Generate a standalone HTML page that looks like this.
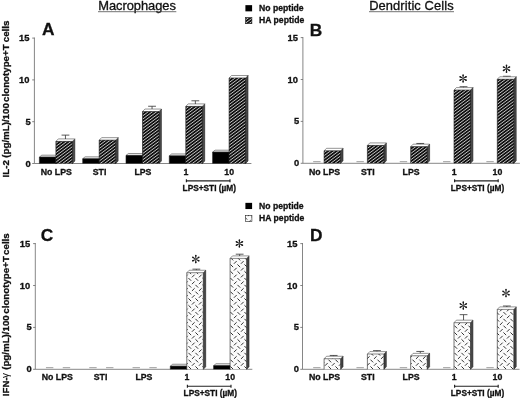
<!DOCTYPE html>
<html><head><meta charset="utf-8"><title>Figure</title>
<style>
html,body{margin:0;padding:0;background:#fff;}
body{width:520px;height:398px;overflow:hidden;font-family:"Liberation Sans",sans-serif;}
svg{display:block;will-change:transform;filter:grayscale(1) blur(0.3px);}
svg text{font-family:"Liberation Sans",sans-serif;fill:#111;}
svg text.b{font-weight:bold;stroke:#111;stroke-width:0.3px;}
svg text.r{font-weight:normal;stroke:#111;stroke-width:0.32px;}
svg text.g{font-weight:normal;}
</style></head><body>
<svg width="520" height="398" viewBox="0 0 520 398"><rect width="520" height="398" fill="#fff"/><text x="98.3" y="10.1" font-size="12.9" textLength="77.6" lengthAdjust="spacing" class="r">Macrophages</text><path d="M98 11.7 H176.3" stroke="#444" stroke-width="0.75"/><text x="369.2" y="10.1" font-size="12.9" textLength="84.4" lengthAdjust="spacing" class="r">Dendritic Cells</text><path d="M369 11.7 H454" stroke="#444" stroke-width="0.75"/><rect x="245.4" y="5.15" width="6.7" height="6.2" fill="#000"/><clipPath id="c1"><rect x="245.6" y="17.6" width="6.3" height="6.1"/></clipPath><rect x="245.6" y="17.6" width="6.3" height="6.1" fill="#101010"/><path d="M244.6 14.37 L252.9 8.15 M244.6 17.51 L252.9 11.28 M244.6 20.65 L252.9 14.42 M244.6 23.79 L252.9 17.56 M244.6 26.93 L252.9 20.7 M244.6 30.07 L252.9 23.84 " stroke="#c6c6c6" stroke-width="1.0" fill="none" clip-path="url(#c1)"/><rect x="245.6" y="17.6" width="6.3" height="6.1" fill="none" stroke="#222" stroke-width="0.6"/><text x="259.1" y="10.9" font-size="8.62" class="b">No peptide</text><text x="259.1" y="23.1" font-size="8.62" class="b">HA peptide</text><rect x="245.4" y="202.85" width="6.7" height="6.2" fill="#000"/><clipPath id="c2"><rect x="245.6" y="215.3" width="6.3" height="6.1"/></clipPath><rect x="245.6" y="215.3" width="6.3" height="6.1" fill="#fbfbfb"/><path d="M244.45 216.85 L247.15 219.55 M247.95 216.15 L250.65 213.45 M251.45 216.85 L254.15 219.55 M247.95 222.95 L250.65 220.25 " stroke="#333" stroke-width="1.0" fill="none" clip-path="url(#c2)"/><rect x="245.6" y="215.3" width="6.3" height="6.1" fill="none" stroke="#222" stroke-width="0.6"/><text x="259.1" y="208.6" font-size="8.62" class="b">No peptide</text><text x="259.1" y="220.8" font-size="8.62" class="b">HA peptide</text><path d="M34.4 37.5 V163.5 H251.4" stroke="#707070" stroke-width="0.85" fill="none"/><path d="M32.199999999999996 163.5 H34.4" stroke="#666" stroke-width="0.8"/><text x="30.8" y="166.5" font-size="9.4" text-anchor="end" class="b">0</text><path d="M32.199999999999996 121.7 H34.4" stroke="#666" stroke-width="0.8"/><text x="30.8" y="124.7" font-size="9.4" text-anchor="end" class="b">5</text><path d="M32.199999999999996 79.9 H34.4" stroke="#666" stroke-width="0.8"/><text x="29.4" y="82.9" font-size="9.4" text-anchor="end" class="b">10</text><path d="M32.199999999999996 38.1 H34.4" stroke="#666" stroke-width="0.8"/><text x="29.4" y="41.1" font-size="9.4" text-anchor="end" class="b">15</text><text x="42.05" y="35.1" font-size="17.3" class="b">A</text><polygon points="55.9,157.06 58.3,155.16 58.3,161.6 55.9,163.5" fill="#000" stroke="#1c1c1c" stroke-width="0.6"/><polygon points="39.4,157.06 41.8,155.16 58.3,155.16 55.9,157.06" fill="#ececec" stroke="#2a2a2a" stroke-width="0.5"/><clipPath id="c3"><rect x="39.4" y="157.06" width="16.5" height="6.44"/></clipPath><rect x="39.4" y="157.06" width="16.5" height="6.44" fill="#000"/><path d="M39.4 157.06 V163.5 M55.9 157.06 V163.5" fill="none" stroke="#1c1c1c" stroke-width="0.6"/><path d="M39.4 157.16 H55.9" fill="none" stroke="#1c1c1c" stroke-width="0.35"/><path d="M65.45 139.02 V135.12 M61.55 135.12 H69.35" stroke="#3c3c3c" stroke-width="0.85" fill="none"/><polygon points="72.4,141.42 74.8,138.92 74.8,161 72.4,163.5" fill="#4a4a4a" stroke="#1c1c1c" stroke-width="0.6"/><polygon points="55.9,141.42 58.3,138.92 74.8,138.92 72.4,141.42" fill="#ffffff" stroke="#2a2a2a" stroke-width="0.5"/><clipPath id="c4"><rect x="55.9" y="141.42" width="16.5" height="22.08"/></clipPath><rect x="55.9" y="141.42" width="16.5" height="22.08" fill="#101010"/><path d="M54.9 137.81 L73.4 123.93 M54.9 140.94 L73.4 127.07 M54.9 144.09 L73.4 130.21 M54.9 147.23 L73.4 133.35 M54.9 150.37 L73.4 136.49 M54.9 153.5 L73.4 139.63 M54.9 156.65 L73.4 142.77 M54.9 159.79 L73.4 145.91 M54.9 162.93 L73.4 149.05 M54.9 166.06 L73.4 152.19 M54.9 169.2 L73.4 155.33 M54.9 172.35 L73.4 158.47 M54.9 175.49 L73.4 161.61 M54.9 178.62 L73.4 164.75 " stroke="#c6c6c6" stroke-width="1.0" fill="none" clip-path="url(#c4)"/><path d="M55.9 141.42 V163.5 M72.4 141.42 V163.5" fill="none" stroke="#1c1c1c" stroke-width="0.6"/><path d="M55.9 141.52 H72.4" fill="none" stroke="#1c1c1c" stroke-width="0.35"/><text x="56.3" y="174.5" font-size="8.75" text-anchor="middle" class="b">No LPS</text><polygon points="99.2,158.72 101.6,156.82 101.6,161.6 99.2,163.5" fill="#000" stroke="#1c1c1c" stroke-width="0.6"/><polygon points="82.7,158.72 85.1,156.82 101.6,156.82 99.2,158.72" fill="#ececec" stroke="#2a2a2a" stroke-width="0.5"/><clipPath id="c5"><rect x="82.7" y="158.72" width="16.5" height="4.78"/></clipPath><rect x="82.7" y="158.72" width="16.5" height="4.78" fill="#000"/><path d="M82.7 158.72 V163.5 M99.2 158.72 V163.5" fill="none" stroke="#1c1c1c" stroke-width="0.6"/><path d="M82.7 158.82 H99.2" fill="none" stroke="#1c1c1c" stroke-width="0.35"/><polygon points="115.7,140.17 118.1,137.67 118.1,161 115.7,163.5" fill="#4a4a4a" stroke="#1c1c1c" stroke-width="0.6"/><polygon points="99.2,140.17 101.6,137.67 118.1,137.67 115.7,140.17" fill="#ffffff" stroke="#2a2a2a" stroke-width="0.5"/><clipPath id="c6"><rect x="99.2" y="140.17" width="16.5" height="23.33"/></clipPath><rect x="99.2" y="140.17" width="16.5" height="23.33" fill="#101010"/><path d="M98.2 136.73 L116.7 122.86 M98.2 139.87 L116.7 126 M98.2 143.01 L116.7 129.13 M98.2 146.15 L116.7 132.28 M98.2 149.29 L116.7 135.42 M98.2 152.43 L116.7 138.56 M98.2 155.57 L116.7 141.69 M98.2 158.71 L116.7 144.84 M98.2 161.85 L116.7 147.98 M98.2 164.99 L116.7 151.12 M98.2 168.13 L116.7 154.25 M98.2 171.27 L116.7 157.4 M98.2 174.41 L116.7 160.54 M98.2 177.55 L116.7 163.68 " stroke="#c6c6c6" stroke-width="1.0" fill="none" clip-path="url(#c6)"/><path d="M99.2 140.17 V163.5 M115.7 140.17 V163.5" fill="none" stroke="#1c1c1c" stroke-width="0.6"/><path d="M99.2 140.27 H115.7" fill="none" stroke="#1c1c1c" stroke-width="0.35"/><text x="99.6" y="174.5" font-size="8.75" text-anchor="middle" class="b">STI</text><polygon points="142.5,155.4 144.9,153.5 144.9,161.6 142.5,163.5" fill="#000" stroke="#1c1c1c" stroke-width="0.6"/><polygon points="126,155.4 128.4,153.5 144.9,153.5 142.5,155.4" fill="#ececec" stroke="#2a2a2a" stroke-width="0.5"/><clipPath id="c7"><rect x="126" y="155.4" width="16.5" height="8.1"/></clipPath><rect x="126" y="155.4" width="16.5" height="8.1" fill="#000"/><path d="M126 155.4 V163.5 M142.5 155.4 V163.5" fill="none" stroke="#1c1c1c" stroke-width="0.6"/><path d="M126 155.5 H142.5" fill="none" stroke="#1c1c1c" stroke-width="0.35"/><path d="M152.05 109.15 V106.25 M148.15 106.25 H155.95" stroke="#3c3c3c" stroke-width="0.85" fill="none"/><polygon points="159,111.55 161.4,109.05 161.4,161 159,163.5" fill="#4a4a4a" stroke="#1c1c1c" stroke-width="0.6"/><polygon points="142.5,111.55 144.9,109.05 161.4,109.05 159,111.55" fill="#ffffff" stroke="#2a2a2a" stroke-width="0.5"/><clipPath id="c8"><rect x="142.5" y="111.55" width="16.5" height="51.95"/></clipPath><rect x="142.5" y="111.55" width="16.5" height="51.95" fill="#101010"/><path d="M141.5 107.4 L160 93.52 M141.5 110.53 L160 96.66 M141.5 113.68 L160 99.8 M141.5 116.81 L160 102.94 M141.5 119.96 L160 106.08 M141.5 123.09 L160 109.22 M141.5 126.24 L160 112.36 M141.5 129.38 L160 115.5 M141.5 132.52 L160 118.64 M141.5 135.66 L160 121.78 M141.5 138.8 L160 124.92 M141.5 141.94 L160 128.06 M141.5 145.08 L160 131.2 M141.5 148.22 L160 134.34 M141.5 151.36 L160 137.48 M141.5 154.5 L160 140.62 M141.5 157.63 L160 143.76 M141.5 160.78 L160 146.9 M141.5 163.92 L160 150.04 M141.5 167.06 L160 153.18 M141.5 170.19 L160 156.32 M141.5 173.34 L160 159.46 M141.5 176.48 L160 162.6 M141.5 179.62 L160 165.74 " stroke="#c6c6c6" stroke-width="1.0" fill="none" clip-path="url(#c8)"/><path d="M142.5 111.55 V163.5 M159 111.55 V163.5" fill="none" stroke="#1c1c1c" stroke-width="0.6"/><path d="M142.5 111.65 H159" fill="none" stroke="#1c1c1c" stroke-width="0.35"/><text x="142.9" y="174.5" font-size="8.75" text-anchor="middle" class="b">LPS</text><polygon points="185.8,155.81 188.2,153.91 188.2,161.6 185.8,163.5" fill="#000" stroke="#1c1c1c" stroke-width="0.6"/><polygon points="169.3,155.81 171.7,153.91 188.2,153.91 185.8,155.81" fill="#ececec" stroke="#2a2a2a" stroke-width="0.5"/><clipPath id="c9"><rect x="169.3" y="155.81" width="16.5" height="7.69"/></clipPath><rect x="169.3" y="155.81" width="16.5" height="7.69" fill="#000"/><path d="M169.3 155.81 V163.5 M185.8 155.81 V163.5" fill="none" stroke="#1c1c1c" stroke-width="0.6"/><path d="M169.3 155.91 H185.8" fill="none" stroke="#1c1c1c" stroke-width="0.35"/><path d="M195.35 103.99 V100.79 M191.45 100.79 H199.25" stroke="#3c3c3c" stroke-width="0.85" fill="none"/><polygon points="202.3,106.39 204.7,103.89 204.7,161 202.3,163.5" fill="#4a4a4a" stroke="#1c1c1c" stroke-width="0.6"/><polygon points="185.8,106.39 188.2,103.89 204.7,103.89 202.3,106.39" fill="#ffffff" stroke="#2a2a2a" stroke-width="0.5"/><clipPath id="c10"><rect x="185.8" y="106.39" width="16.5" height="57.11"/></clipPath><rect x="185.8" y="106.39" width="16.5" height="57.11" fill="#101010"/><path d="M184.8 103.18 L203.3 89.31 M184.8 106.32 L203.3 92.45 M184.8 109.46 L203.3 95.59 M184.8 112.6 L203.3 98.73 M184.8 115.74 L203.3 101.87 M184.8 118.88 L203.3 105.01 M184.8 122.02 L203.3 108.15 M184.8 125.16 L203.3 111.28 M184.8 128.3 L203.3 114.43 M184.8 131.44 L203.3 117.57 M184.8 134.58 L203.3 120.71 M184.8 137.72 L203.3 123.84 M184.8 140.86 L203.3 126.99 M184.8 144 L203.3 130.13 M184.8 147.14 L203.3 133.27 M184.8 150.28 L203.3 136.41 M184.8 153.42 L203.3 139.55 M184.8 156.56 L203.3 142.69 M184.8 159.7 L203.3 145.83 M184.8 162.84 L203.3 148.97 M184.8 165.98 L203.3 152.1 M184.8 169.12 L203.3 155.25 M184.8 172.26 L203.3 158.39 M184.8 175.4 L203.3 161.53 M184.8 178.54 L203.3 164.66 " stroke="#c6c6c6" stroke-width="1.0" fill="none" clip-path="url(#c10)"/><path d="M185.8 106.39 V163.5 M202.3 106.39 V163.5" fill="none" stroke="#1c1c1c" stroke-width="0.6"/><path d="M185.8 106.49 H202.3" fill="none" stroke="#1c1c1c" stroke-width="0.35"/><text x="185.9" y="174.5" font-size="8.75" text-anchor="middle" class="b">1</text><polygon points="229.1,152.07 231.5,150.17 231.5,161.6 229.1,163.5" fill="#000" stroke="#1c1c1c" stroke-width="0.6"/><polygon points="212.6,152.07 215,150.17 231.5,150.17 229.1,152.07" fill="#ececec" stroke="#2a2a2a" stroke-width="0.5"/><clipPath id="c11"><rect x="212.6" y="152.07" width="16.5" height="11.43"/></clipPath><rect x="212.6" y="152.07" width="16.5" height="11.43" fill="#000"/><path d="M212.6 152.07 V163.5 M229.1 152.07 V163.5" fill="none" stroke="#1c1c1c" stroke-width="0.6"/><path d="M212.6 152.17 H229.1" fill="none" stroke="#1c1c1c" stroke-width="0.35"/><polygon points="245.6,78.02 248,75.52 248,161 245.6,163.5" fill="#4a4a4a" stroke="#1c1c1c" stroke-width="0.6"/><polygon points="229.1,78.02 231.5,75.52 248,75.52 245.6,78.02" fill="#ffffff" stroke="#2a2a2a" stroke-width="0.5"/><clipPath id="c12"><rect x="229.1" y="78.02" width="16.5" height="85.48"/></clipPath><rect x="229.1" y="78.02" width="16.5" height="85.48" fill="#101010"/><path d="M228.1 73.85 L246.6 59.97 M228.1 76.99 L246.6 63.11 M228.1 80.13 L246.6 66.25 M228.1 83.27 L246.6 69.39 M228.1 86.41 L246.6 72.53 M228.1 89.55 L246.6 75.67 M228.1 92.69 L246.6 78.81 M228.1 95.83 L246.6 81.95 M228.1 98.97 L246.6 85.09 M228.1 102.11 L246.6 88.23 M228.1 105.25 L246.6 91.37 M228.1 108.39 L246.6 94.51 M228.1 111.53 L246.6 97.65 M228.1 114.67 L246.6 100.79 M228.1 117.81 L246.6 103.93 M228.1 120.95 L246.6 107.07 M228.1 124.09 L246.6 110.21 M228.1 127.23 L246.6 113.35 M228.1 130.37 L246.6 116.49 M228.1 133.5 L246.6 119.63 M228.1 136.65 L246.6 122.77 M228.1 139.79 L246.6 125.91 M228.1 142.93 L246.6 129.05 M228.1 146.06 L246.6 132.19 M228.1 149.21 L246.6 135.33 M228.1 152.35 L246.6 138.47 M228.1 155.49 L246.6 141.61 M228.1 158.62 L246.6 144.75 M228.1 161.77 L246.6 147.89 M228.1 164.91 L246.6 151.03 M228.1 168.05 L246.6 154.17 M228.1 171.19 L246.6 157.31 M228.1 174.33 L246.6 160.45 M228.1 177.47 L246.6 163.59 " stroke="#c6c6c6" stroke-width="1.0" fill="none" clip-path="url(#c12)"/><path d="M229.1 78.02 V163.5 M245.6 78.02 V163.5" fill="none" stroke="#1c1c1c" stroke-width="0.6"/><path d="M229.1 78.12 H245.6" fill="none" stroke="#1c1c1c" stroke-width="0.35"/><text x="229.2" y="174.5" font-size="8.75" text-anchor="middle" class="b">10</text><path d="M186.4 180.8 H230 M186.4 179.3 V182.3 M230 179.3 V182.3" stroke="#222" stroke-width="1.15"/><text x="209.3" y="190.8" font-size="8.3" text-anchor="middle" class="b">LPS+STI (µM)</text><text transform="translate(8.55,177.48) rotate(-90)" font-size="9.72" class="b">IL-2</text><text transform="translate(8.55,157.7) rotate(-90)" font-size="9.72" class="b">(pg/mL)/100</text><text transform="translate(8.55,101.89) rotate(-90)" font-size="9.72" class="b">clonotype+T</text><text transform="translate(8.55,42.19) rotate(-90)" font-size="9.72" class="b">cells</text><path d="M302.9 37 V163.3 H519.9" stroke="#707070" stroke-width="0.85" fill="none"/><path d="M300.7 163.3 H302.9" stroke="#666" stroke-width="0.8"/><text x="299.3" y="166.3" font-size="9.4" text-anchor="end" class="b">0</text><path d="M300.7 121.4 H302.9" stroke="#666" stroke-width="0.8"/><text x="299.3" y="124.4" font-size="9.4" text-anchor="end" class="b">5</text><path d="M300.7 79.5 H302.9" stroke="#666" stroke-width="0.8"/><text x="297.9" y="82.5" font-size="9.4" text-anchor="end" class="b">10</text><path d="M300.7 37.6 H302.9" stroke="#666" stroke-width="0.8"/><text x="297.9" y="40.6" font-size="9.4" text-anchor="end" class="b">15</text><text x="309.85" y="35.6" font-size="17.3" class="b">B</text><rect x="313.15" y="161.1" width="7.4" height="1.1" fill="#a6a6a6"/><polygon points="340.6,150.82 343,148.32 343,160.8 340.6,163.3" fill="#4a4a4a" stroke="#1c1c1c" stroke-width="0.6"/><polygon points="324.1,150.82 326.5,148.32 343,148.32 340.6,150.82" fill="#ffffff" stroke="#2a2a2a" stroke-width="0.5"/><clipPath id="c13"><rect x="324.1" y="150.82" width="16.5" height="12.48"/></clipPath><rect x="324.1" y="150.82" width="16.5" height="12.48" fill="#101010"/><path d="M323.1 147.04 L341.6 133.16 M323.1 150.18 L341.6 136.3 M323.1 153.32 L341.6 139.44 M323.1 156.46 L341.6 142.58 M323.1 159.6 L341.6 145.72 M323.1 162.74 L341.6 148.86 M323.1 165.88 L341.6 152 M323.1 169.02 L341.6 155.14 M323.1 172.16 L341.6 158.28 M323.1 175.3 L341.6 161.42 M323.1 178.44 L341.6 164.56 " stroke="#c6c6c6" stroke-width="1.0" fill="none" clip-path="url(#c13)"/><path d="M324.1 150.82 V163.3 M340.6 150.82 V163.3" fill="none" stroke="#1c1c1c" stroke-width="0.6"/><path d="M324.1 150.92 H340.6" fill="none" stroke="#1c1c1c" stroke-width="0.35"/><text x="324.5" y="174.5" font-size="8.75" text-anchor="middle" class="b">No LPS</text><rect x="356.45" y="161.1" width="7.4" height="1.1" fill="#a6a6a6"/><polygon points="383.9,145.41 386.3,142.91 386.3,160.8 383.9,163.3" fill="#4a4a4a" stroke="#1c1c1c" stroke-width="0.6"/><polygon points="367.4,145.41 369.8,142.91 386.3,142.91 383.9,145.41" fill="#ffffff" stroke="#2a2a2a" stroke-width="0.5"/><clipPath id="c14"><rect x="367.4" y="145.41" width="16.5" height="17.89"/></clipPath><rect x="367.4" y="145.41" width="16.5" height="17.89" fill="#101010"/><path d="M366.4 142.82 L384.9 128.95 M366.4 145.96 L384.9 132.09 M366.4 149.1 L384.9 135.23 M366.4 152.24 L384.9 138.37 M366.4 155.38 L384.9 141.51 M366.4 158.52 L384.9 144.65 M366.4 161.66 L384.9 147.79 M366.4 164.8 L384.9 150.93 M366.4 167.94 L384.9 154.07 M366.4 171.08 L384.9 157.21 M366.4 174.22 L384.9 160.35 M366.4 177.36 L384.9 163.49 " stroke="#c6c6c6" stroke-width="1.0" fill="none" clip-path="url(#c14)"/><path d="M367.4 145.41 V163.3 M383.9 145.41 V163.3" fill="none" stroke="#1c1c1c" stroke-width="0.6"/><path d="M367.4 145.51 H383.9" fill="none" stroke="#1c1c1c" stroke-width="0.35"/><text x="367.8" y="174.5" font-size="8.75" text-anchor="middle" class="b">STI</text><rect x="399.75" y="161.1" width="7.4" height="1.1" fill="#a6a6a6"/><path d="M420.25 144.26 V143.46 M416.35 143.46 H424.15" stroke="#3c3c3c" stroke-width="0.85" fill="none"/><polygon points="427.2,146.66 429.6,144.16 429.6,160.8 427.2,163.3" fill="#4a4a4a" stroke="#1c1c1c" stroke-width="0.6"/><polygon points="410.7,146.66 413.1,144.16 429.6,144.16 427.2,146.66" fill="#ffffff" stroke="#2a2a2a" stroke-width="0.5"/><clipPath id="c15"><rect x="410.7" y="146.66" width="16.5" height="16.64"/></clipPath><rect x="410.7" y="146.66" width="16.5" height="16.64" fill="#101010"/><path d="M409.7 141.75 L428.2 127.87 M409.7 144.89 L428.2 131.01 M409.7 148.03 L428.2 134.15 M409.7 151.17 L428.2 137.29 M409.7 154.31 L428.2 140.43 M409.7 157.45 L428.2 143.57 M409.7 160.59 L428.2 146.71 M409.7 163.73 L428.2 149.85 M409.7 166.87 L428.2 152.99 M409.7 170.01 L428.2 156.13 M409.7 173.15 L428.2 159.27 M409.7 176.29 L428.2 162.41 M409.7 179.43 L428.2 165.55 " stroke="#c6c6c6" stroke-width="1.0" fill="none" clip-path="url(#c15)"/><path d="M410.7 146.66 V163.3 M427.2 146.66 V163.3" fill="none" stroke="#1c1c1c" stroke-width="0.6"/><path d="M410.7 146.76 H427.2" fill="none" stroke="#1c1c1c" stroke-width="0.35"/><text x="411.1" y="174.5" font-size="8.75" text-anchor="middle" class="b">LPS</text><rect x="443.05" y="161.1" width="7.4" height="1.1" fill="#a6a6a6"/><path d="M463.55 87.68 V86.68 M459.65 86.68 H467.45" stroke="#3c3c3c" stroke-width="0.85" fill="none"/><polygon points="470.5,90.08 472.9,87.58 472.9,160.8 470.5,163.3" fill="#4a4a4a" stroke="#1c1c1c" stroke-width="0.6"/><polygon points="454,90.08 456.4,87.58 472.9,87.58 470.5,90.08" fill="#ffffff" stroke="#2a2a2a" stroke-width="0.5"/><clipPath id="c16"><rect x="454" y="90.08" width="16.5" height="73.22"/></clipPath><rect x="454" y="90.08" width="16.5" height="73.22" fill="#101010"/><path d="M453 87.29 L471.5 73.42 M453 90.43 L471.5 76.56 M453 93.57 L471.5 79.7 M453 96.71 L471.5 82.84 M453 99.85 L471.5 85.98 M453 102.99 L471.5 89.12 M453 106.13 L471.5 92.26 M453 109.27 L471.5 95.4 M453 112.41 L471.5 98.54 M453 115.55 L471.5 101.68 M453 118.69 L471.5 104.82 M453 121.83 L471.5 107.96 M453 124.97 L471.5 111.1 M453 128.11 L471.5 114.24 M453 131.25 L471.5 117.38 M453 134.39 L471.5 120.52 M453 137.53 L471.5 123.66 M453 140.67 L471.5 126.8 M453 143.81 L471.5 129.94 M453 146.95 L471.5 133.08 M453 150.09 L471.5 136.22 M453 153.23 L471.5 139.36 M453 156.37 L471.5 142.5 M453 159.51 L471.5 145.64 M453 162.65 L471.5 148.78 M453 165.79 L471.5 151.92 M453 168.93 L471.5 155.06 M453 172.07 L471.5 158.2 M453 175.21 L471.5 161.34 M453 178.35 L471.5 164.48 " stroke="#c6c6c6" stroke-width="1.0" fill="none" clip-path="url(#c16)"/><path d="M454 90.08 V163.3 M470.5 90.08 V163.3" fill="none" stroke="#1c1c1c" stroke-width="0.6"/><path d="M454 90.18 H470.5" fill="none" stroke="#1c1c1c" stroke-width="0.35"/><text x="454.1" y="174.5" font-size="8.75" text-anchor="middle" class="b">1</text><rect x="486.35" y="161.1" width="7.4" height="1.1" fill="#a6a6a6"/><path d="M506.85 76.87 V76.27 M502.95 76.27 H510.75" stroke="#3c3c3c" stroke-width="0.85" fill="none"/><polygon points="513.8,79.27 516.2,76.77 516.2,160.8 513.8,163.3" fill="#4a4a4a" stroke="#1c1c1c" stroke-width="0.6"/><polygon points="497.3,79.27 499.7,76.77 516.2,76.77 513.8,79.27" fill="#ffffff" stroke="#2a2a2a" stroke-width="0.5"/><clipPath id="c17"><rect x="497.3" y="79.27" width="16.5" height="84.03"/></clipPath><rect x="497.3" y="79.27" width="16.5" height="84.03" fill="#101010"/><path d="M496.3 76.8 L514.8 62.92 M496.3 79.94 L514.8 66.06 M496.3 83.08 L514.8 69.2 M496.3 86.22 L514.8 72.34 M496.3 89.36 L514.8 75.48 M496.3 92.5 L514.8 78.62 M496.3 95.64 L514.8 81.76 M496.3 98.78 L514.8 84.9 M496.3 101.92 L514.8 88.04 M496.3 105.06 L514.8 91.18 M496.3 108.2 L514.8 94.32 M496.3 111.34 L514.8 97.46 M496.3 114.48 L514.8 100.6 M496.3 117.62 L514.8 103.74 M496.3 120.76 L514.8 106.88 M496.3 123.9 L514.8 110.02 M496.3 127.04 L514.8 113.16 M496.3 130.18 L514.8 116.3 M496.3 133.32 L514.8 119.44 M496.3 136.46 L514.8 122.58 M496.3 139.6 L514.8 125.72 M496.3 142.74 L514.8 128.86 M496.3 145.88 L514.8 132 M496.3 149.02 L514.8 135.14 M496.3 152.16 L514.8 138.28 M496.3 155.3 L514.8 141.42 M496.3 158.44 L514.8 144.56 M496.3 161.58 L514.8 147.7 M496.3 164.72 L514.8 150.84 M496.3 167.86 L514.8 153.98 M496.3 171 L514.8 157.12 M496.3 174.14 L514.8 160.26 M496.3 177.28 L514.8 163.4 " stroke="#c6c6c6" stroke-width="1.0" fill="none" clip-path="url(#c17)"/><path d="M497.3 79.27 V163.3 M513.8 79.27 V163.3" fill="none" stroke="#1c1c1c" stroke-width="0.6"/><path d="M497.3 79.37 H513.8" fill="none" stroke="#1c1c1c" stroke-width="0.35"/><text x="497.4" y="174.5" font-size="8.75" text-anchor="middle" class="b">10</text><path d="M454.6 180.8 H498.2 M454.6 179.3 V182.3 M498.2 179.3 V182.3" stroke="#222" stroke-width="1.15"/><text x="477.5" y="190.8" font-size="8.3" text-anchor="middle" class="b">LPS+STI (µM)</text><g fill="#151515"><polygon points="462.84,78.2 462.32,74.98 463.88,74.98 463.36,78.2"/><circle cx="463.1" cy="74.98" r="0.78"/><polygon points="463.23,78.12 465.76,76.06 466.54,77.42 463.49,78.58"/><circle cx="466.15" cy="76.74" r="0.78"/><polygon points="462.71,78.58 459.66,77.42 460.44,76.06 462.97,78.12"/><circle cx="460.05" cy="76.74" r="0.78"/><polygon points="463.36,78.8 463.88,82.02 462.32,82.02 462.84,78.8"/><circle cx="463.1" cy="82.02" r="0.78"/><polygon points="462.97,78.88 460.44,80.94 459.66,79.58 462.71,78.42"/><circle cx="460.05" cy="80.26" r="0.78"/><polygon points="463.49,78.42 466.54,79.58 465.76,80.94 463.23,78.88"/><circle cx="466.15" cy="80.26" r="0.78"/><circle cx="463.1" cy="78.5" r="0.45"/></g><g fill="#151515"><polygon points="506.24,68.4 505.72,65.18 507.28,65.18 506.76,68.4"/><circle cx="506.5" cy="65.18" r="0.78"/><polygon points="506.63,68.32 509.16,66.26 509.94,67.62 506.89,68.78"/><circle cx="509.55" cy="66.94" r="0.78"/><polygon points="506.11,68.78 503.06,67.62 503.84,66.26 506.37,68.32"/><circle cx="503.45" cy="66.94" r="0.78"/><polygon points="506.76,69 507.28,72.22 505.72,72.22 506.24,69"/><circle cx="506.5" cy="72.22" r="0.78"/><polygon points="506.37,69.08 503.84,71.14 503.06,69.78 506.11,68.62"/><circle cx="503.45" cy="70.46" r="0.78"/><polygon points="506.89,68.62 509.94,69.78 509.16,71.14 506.63,69.08"/><circle cx="509.55" cy="70.46" r="0.78"/><circle cx="506.5" cy="68.7" r="0.45"/></g><path d="M35.3 243 V369.3 H252.3" stroke="#707070" stroke-width="0.85" fill="none"/><path d="M33.099999999999994 369.3 H35.3" stroke="#666" stroke-width="0.8"/><text x="31.7" y="372.3" font-size="9.4" text-anchor="end" class="b">0</text><path d="M33.099999999999994 327.4 H35.3" stroke="#666" stroke-width="0.8"/><text x="31.7" y="330.4" font-size="9.4" text-anchor="end" class="b">5</text><path d="M33.099999999999994 285.5 H35.3" stroke="#666" stroke-width="0.8"/><text x="30.3" y="288.5" font-size="9.4" text-anchor="end" class="b">10</text><path d="M33.099999999999994 243.6 H35.3" stroke="#666" stroke-width="0.8"/><text x="30.3" y="246.6" font-size="9.4" text-anchor="end" class="b">15</text><text x="40.65" y="241.1" font-size="17.3" class="b">C</text><rect x="45.95" y="367.1" width="7.4" height="1.1" fill="#a6a6a6"/><rect x="62.75" y="367.1" width="7.4" height="1.1" fill="#a6a6a6"/><text x="57.3" y="379.9" font-size="8.75" text-anchor="middle" class="b">No LPS</text><rect x="89.25" y="367.1" width="7.4" height="1.1" fill="#a6a6a6"/><rect x="106.05" y="367.1" width="7.4" height="1.1" fill="#a6a6a6"/><text x="100.6" y="379.9" font-size="8.75" text-anchor="middle" class="b">STI</text><rect x="132.55" y="367.1" width="7.4" height="1.1" fill="#a6a6a6"/><rect x="149.35" y="367.1" width="7.4" height="1.1" fill="#a6a6a6"/><text x="143.9" y="379.9" font-size="8.75" text-anchor="middle" class="b">LPS</text><polygon points="186.8,366.13 189.2,364.23 189.2,367.4 186.8,369.3" fill="#000" stroke="#1c1c1c" stroke-width="0.6"/><polygon points="170.3,366.13 172.7,364.23 189.2,364.23 186.8,366.13" fill="#ececec" stroke="#2a2a2a" stroke-width="0.5"/><clipPath id="c18"><rect x="170.3" y="366.13" width="16.5" height="3.17"/></clipPath><rect x="170.3" y="366.13" width="16.5" height="3.17" fill="#000"/><path d="M170.3 366.13 V369.3 M186.8 366.13 V369.3" fill="none" stroke="#1c1c1c" stroke-width="0.6"/><path d="M170.3 366.23 H186.8" fill="none" stroke="#1c1c1c" stroke-width="0.35"/><path d="M196.35 270.35 V269.15 M192.45 269.15 H200.25" stroke="#3c3c3c" stroke-width="0.85" fill="none"/><polygon points="203.3,272.75 205.7,270.25 205.7,366.8 203.3,369.3" fill="#474747" stroke="#1c1c1c" stroke-width="0.6"/><polygon points="186.8,272.75 189.2,270.25 205.7,270.25 203.3,272.75" fill="#ffffff" stroke="#2a2a2a" stroke-width="0.5"/><clipPath id="c19"><rect x="186.8" y="272.75" width="16.5" height="96.55"/></clipPath><rect x="186.8" y="272.75" width="16.5" height="96.55" fill="#fbfbfb"/><path d="M188.45 271.25 L191.15 273.95 M195.45 271.25 L198.15 273.95 M202.45 271.25 L205.15 273.95 M184.95 277.35 L187.65 274.65 M188.45 278.05 L191.15 280.75 M191.95 277.35 L194.65 274.65 M195.45 278.05 L198.15 280.75 M198.95 277.35 L201.65 274.65 M202.45 278.05 L205.15 280.75 M184.95 284.15 L187.65 281.45 M188.45 284.85 L191.15 287.55 M191.95 284.15 L194.65 281.45 M195.45 284.85 L198.15 287.55 M198.95 284.15 L201.65 281.45 M202.45 284.85 L205.15 287.55 M184.95 290.95 L187.65 288.25 M188.45 291.65 L191.15 294.35 M191.95 290.95 L194.65 288.25 M195.45 291.65 L198.15 294.35 M198.95 290.95 L201.65 288.25 M202.45 291.65 L205.15 294.35 M184.95 297.75 L187.65 295.05 M188.45 298.45 L191.15 301.15 M191.95 297.75 L194.65 295.05 M195.45 298.45 L198.15 301.15 M198.95 297.75 L201.65 295.05 M202.45 298.45 L205.15 301.15 M184.95 304.55 L187.65 301.85 M188.45 305.25 L191.15 307.95 M191.95 304.55 L194.65 301.85 M195.45 305.25 L198.15 307.95 M198.95 304.55 L201.65 301.85 M202.45 305.25 L205.15 307.95 M184.95 311.35 L187.65 308.65 M188.45 312.05 L191.15 314.75 M191.95 311.35 L194.65 308.65 M195.45 312.05 L198.15 314.75 M198.95 311.35 L201.65 308.65 M202.45 312.05 L205.15 314.75 M184.95 318.15 L187.65 315.45 M188.45 318.85 L191.15 321.55 M191.95 318.15 L194.65 315.45 M195.45 318.85 L198.15 321.55 M198.95 318.15 L201.65 315.45 M202.45 318.85 L205.15 321.55 M184.95 324.95 L187.65 322.25 M188.45 325.65 L191.15 328.35 M191.95 324.95 L194.65 322.25 M195.45 325.65 L198.15 328.35 M198.95 324.95 L201.65 322.25 M202.45 325.65 L205.15 328.35 M184.95 331.75 L187.65 329.05 M188.45 332.45 L191.15 335.15 M191.95 331.75 L194.65 329.05 M195.45 332.45 L198.15 335.15 M198.95 331.75 L201.65 329.05 M202.45 332.45 L205.15 335.15 M184.95 338.55 L187.65 335.85 M188.45 339.25 L191.15 341.95 M191.95 338.55 L194.65 335.85 M195.45 339.25 L198.15 341.95 M198.95 338.55 L201.65 335.85 M202.45 339.25 L205.15 341.95 M184.95 345.35 L187.65 342.65 M188.45 346.05 L191.15 348.75 M191.95 345.35 L194.65 342.65 M195.45 346.05 L198.15 348.75 M198.95 345.35 L201.65 342.65 M202.45 346.05 L205.15 348.75 M184.95 352.15 L187.65 349.45 M188.45 352.85 L191.15 355.55 M191.95 352.15 L194.65 349.45 M195.45 352.85 L198.15 355.55 M198.95 352.15 L201.65 349.45 M202.45 352.85 L205.15 355.55 M184.95 358.95 L187.65 356.25 M188.45 359.65 L191.15 362.35 M191.95 358.95 L194.65 356.25 M195.45 359.65 L198.15 362.35 M198.95 358.95 L201.65 356.25 M202.45 359.65 L205.15 362.35 M184.95 365.75 L187.65 363.05 M188.45 366.45 L191.15 369.15 M191.95 365.75 L194.65 363.05 M195.45 366.45 L198.15 369.15 M198.95 365.75 L201.65 363.05 M202.45 366.45 L205.15 369.15 M184.95 372.55 L187.65 369.85 M191.95 372.55 L194.65 369.85 M198.95 372.55 L201.65 369.85 " stroke="#333" stroke-width="1.0" fill="none" clip-path="url(#c19)"/><path d="M186.8 272.75 V369.3 M203.3 272.75 V369.3" fill="none" stroke="#1c1c1c" stroke-width="0.6"/><path d="M186.8 272.85 H203.3" fill="none" stroke="#1c1c1c" stroke-width="0.35"/><text x="186.9" y="379.9" font-size="8.75" text-anchor="middle" class="b">1</text><polygon points="230.1,365.63 232.5,363.73 232.5,367.4 230.1,369.3" fill="#000" stroke="#1c1c1c" stroke-width="0.6"/><polygon points="213.6,365.63 216,363.73 232.5,363.73 230.1,365.63" fill="#ececec" stroke="#2a2a2a" stroke-width="0.5"/><clipPath id="c20"><rect x="213.6" y="365.63" width="16.5" height="3.67"/></clipPath><rect x="213.6" y="365.63" width="16.5" height="3.67" fill="#000"/><path d="M213.6 365.63 V369.3 M230.1 365.63 V369.3" fill="none" stroke="#1c1c1c" stroke-width="0.6"/><path d="M213.6 365.73 H230.1" fill="none" stroke="#1c1c1c" stroke-width="0.35"/><path d="M239.65 256 V254.2 M235.75 254.2 H243.55" stroke="#3c3c3c" stroke-width="0.85" fill="none"/><polygon points="246.6,258.4 249,255.9 249,366.8 246.6,369.3" fill="#474747" stroke="#1c1c1c" stroke-width="0.6"/><polygon points="230.1,258.4 232.5,255.9 249,255.9 246.6,258.4" fill="#ffffff" stroke="#2a2a2a" stroke-width="0.5"/><clipPath id="c21"><rect x="230.1" y="258.4" width="16.5" height="110.9"/></clipPath><rect x="230.1" y="258.4" width="16.5" height="110.9" fill="#fbfbfb"/><path d="M230.45 257.65 L233.15 260.35 M237.45 257.65 L240.15 260.35 M244.45 257.65 L247.15 260.35 M226.95 263.75 L229.65 261.05 M230.45 264.45 L233.15 267.15 M233.95 263.75 L236.65 261.05 M237.45 264.45 L240.15 267.15 M240.95 263.75 L243.65 261.05 M244.45 264.45 L247.15 267.15 M226.95 270.55 L229.65 267.85 M230.45 271.25 L233.15 273.95 M233.95 270.55 L236.65 267.85 M237.45 271.25 L240.15 273.95 M240.95 270.55 L243.65 267.85 M244.45 271.25 L247.15 273.95 M226.95 277.35 L229.65 274.65 M230.45 278.05 L233.15 280.75 M233.95 277.35 L236.65 274.65 M237.45 278.05 L240.15 280.75 M240.95 277.35 L243.65 274.65 M244.45 278.05 L247.15 280.75 M226.95 284.15 L229.65 281.45 M230.45 284.85 L233.15 287.55 M233.95 284.15 L236.65 281.45 M237.45 284.85 L240.15 287.55 M240.95 284.15 L243.65 281.45 M244.45 284.85 L247.15 287.55 M226.95 290.95 L229.65 288.25 M230.45 291.65 L233.15 294.35 M233.95 290.95 L236.65 288.25 M237.45 291.65 L240.15 294.35 M240.95 290.95 L243.65 288.25 M244.45 291.65 L247.15 294.35 M226.95 297.75 L229.65 295.05 M230.45 298.45 L233.15 301.15 M233.95 297.75 L236.65 295.05 M237.45 298.45 L240.15 301.15 M240.95 297.75 L243.65 295.05 M244.45 298.45 L247.15 301.15 M226.95 304.55 L229.65 301.85 M230.45 305.25 L233.15 307.95 M233.95 304.55 L236.65 301.85 M237.45 305.25 L240.15 307.95 M240.95 304.55 L243.65 301.85 M244.45 305.25 L247.15 307.95 M226.95 311.35 L229.65 308.65 M230.45 312.05 L233.15 314.75 M233.95 311.35 L236.65 308.65 M237.45 312.05 L240.15 314.75 M240.95 311.35 L243.65 308.65 M244.45 312.05 L247.15 314.75 M226.95 318.15 L229.65 315.45 M230.45 318.85 L233.15 321.55 M233.95 318.15 L236.65 315.45 M237.45 318.85 L240.15 321.55 M240.95 318.15 L243.65 315.45 M244.45 318.85 L247.15 321.55 M226.95 324.95 L229.65 322.25 M230.45 325.65 L233.15 328.35 M233.95 324.95 L236.65 322.25 M237.45 325.65 L240.15 328.35 M240.95 324.95 L243.65 322.25 M244.45 325.65 L247.15 328.35 M226.95 331.75 L229.65 329.05 M230.45 332.45 L233.15 335.15 M233.95 331.75 L236.65 329.05 M237.45 332.45 L240.15 335.15 M240.95 331.75 L243.65 329.05 M244.45 332.45 L247.15 335.15 M226.95 338.55 L229.65 335.85 M230.45 339.25 L233.15 341.95 M233.95 338.55 L236.65 335.85 M237.45 339.25 L240.15 341.95 M240.95 338.55 L243.65 335.85 M244.45 339.25 L247.15 341.95 M226.95 345.35 L229.65 342.65 M230.45 346.05 L233.15 348.75 M233.95 345.35 L236.65 342.65 M237.45 346.05 L240.15 348.75 M240.95 345.35 L243.65 342.65 M244.45 346.05 L247.15 348.75 M226.95 352.15 L229.65 349.45 M230.45 352.85 L233.15 355.55 M233.95 352.15 L236.65 349.45 M237.45 352.85 L240.15 355.55 M240.95 352.15 L243.65 349.45 M244.45 352.85 L247.15 355.55 M226.95 358.95 L229.65 356.25 M230.45 359.65 L233.15 362.35 M233.95 358.95 L236.65 356.25 M237.45 359.65 L240.15 362.35 M240.95 358.95 L243.65 356.25 M244.45 359.65 L247.15 362.35 M226.95 365.75 L229.65 363.05 M230.45 366.45 L233.15 369.15 M233.95 365.75 L236.65 363.05 M237.45 366.45 L240.15 369.15 M240.95 365.75 L243.65 363.05 M244.45 366.45 L247.15 369.15 M226.95 372.55 L229.65 369.85 M233.95 372.55 L236.65 369.85 M240.95 372.55 L243.65 369.85 " stroke="#333" stroke-width="1.0" fill="none" clip-path="url(#c21)"/><path d="M230.1 258.4 V369.3 M246.6 258.4 V369.3" fill="none" stroke="#1c1c1c" stroke-width="0.6"/><path d="M230.1 258.5 H246.6" fill="none" stroke="#1c1c1c" stroke-width="0.35"/><text x="230.2" y="379.9" font-size="8.75" text-anchor="middle" class="b">10</text><path d="M187.4 386.2 H231 M187.4 384.7 V387.7 M231 384.7 V387.7" stroke="#222" stroke-width="1.15"/><text x="210.3" y="396.2" font-size="8.3" text-anchor="middle" class="b">LPS+STI (µM)</text><g fill="#151515"><polygon points="195.54,258.8 195.02,255.58 196.58,255.58 196.06,258.8"/><circle cx="195.8" cy="255.58" r="0.78"/><polygon points="195.93,258.72 198.46,256.66 199.24,258.02 196.19,259.18"/><circle cx="198.85" cy="257.34" r="0.78"/><polygon points="195.41,259.18 192.36,258.02 193.14,256.66 195.67,258.72"/><circle cx="192.75" cy="257.34" r="0.78"/><polygon points="196.06,259.4 196.58,262.62 195.02,262.62 195.54,259.4"/><circle cx="195.8" cy="262.62" r="0.78"/><polygon points="195.67,259.48 193.14,261.54 192.36,260.18 195.41,259.02"/><circle cx="192.75" cy="260.86" r="0.78"/><polygon points="196.19,259.02 199.24,260.18 198.46,261.54 195.93,259.48"/><circle cx="198.85" cy="260.86" r="0.78"/><circle cx="195.8" cy="259.1" r="0.45"/></g><g fill="#151515"><polygon points="239.14,243.2 238.62,239.98 240.18,239.98 239.66,243.2"/><circle cx="239.4" cy="239.98" r="0.78"/><polygon points="239.53,243.12 242.06,241.06 242.84,242.42 239.79,243.58"/><circle cx="242.45" cy="241.74" r="0.78"/><polygon points="239.01,243.58 235.96,242.42 236.74,241.06 239.27,243.12"/><circle cx="236.35" cy="241.74" r="0.78"/><polygon points="239.66,243.8 240.18,247.02 238.62,247.02 239.14,243.8"/><circle cx="239.4" cy="247.02" r="0.78"/><polygon points="239.27,243.88 236.74,245.94 235.96,244.58 239.01,243.42"/><circle cx="236.35" cy="245.26" r="0.78"/><polygon points="239.79,243.42 242.84,244.58 242.06,245.94 239.53,243.88"/><circle cx="242.45" cy="245.26" r="0.78"/><circle cx="239.4" cy="243.5" r="0.45"/></g><text transform="translate(8.55,396.18) rotate(-90)" font-size="9.72" class="b">IFN-</text><text transform="translate(8.55,377.9) rotate(-90)" font-size="10.0" class="g">γ</text><text transform="translate(8.55,369.8) rotate(-90)" font-size="9.72" class="b">(pg/mL)/100</text><text transform="translate(8.55,313.69) rotate(-90)" font-size="9.72" class="b">clonotype+T</text><text transform="translate(8.55,254.89) rotate(-90)" font-size="9.72" class="b">cells</text><path d="M302.5 243 V369.3 H519.5" stroke="#707070" stroke-width="0.85" fill="none"/><path d="M300.3 369.3 H302.5" stroke="#666" stroke-width="0.8"/><text x="298.9" y="372.3" font-size="9.4" text-anchor="end" class="b">0</text><path d="M300.3 327.4 H302.5" stroke="#666" stroke-width="0.8"/><text x="298.9" y="330.4" font-size="9.4" text-anchor="end" class="b">5</text><path d="M300.3 285.5 H302.5" stroke="#666" stroke-width="0.8"/><text x="297.5" y="288.5" font-size="9.4" text-anchor="end" class="b">10</text><path d="M300.3 243.6 H302.5" stroke="#666" stroke-width="0.8"/><text x="297.5" y="246.6" font-size="9.4" text-anchor="end" class="b">15</text><text x="310.05" y="241.4" font-size="17.3" class="b">D</text><rect x="313.15" y="367.1" width="7.4" height="1.1" fill="#a6a6a6"/><path d="M333.65 356.35 V355.45 M329.75 355.45 H337.55" stroke="#3c3c3c" stroke-width="0.85" fill="none"/><polygon points="340.6,358.75 343,356.25 343,366.8 340.6,369.3" fill="#474747" stroke="#1c1c1c" stroke-width="0.6"/><polygon points="324.1,358.75 326.5,356.25 343,356.25 340.6,358.75" fill="#ffffff" stroke="#2a2a2a" stroke-width="0.5"/><clipPath id="c22"><rect x="324.1" y="358.75" width="16.5" height="10.55"/></clipPath><rect x="324.1" y="358.75" width="16.5" height="10.55" fill="#fbfbfb"/><path d="M321.45 359.65 L324.15 362.35 M324.95 358.95 L327.65 356.25 M328.45 359.65 L331.15 362.35 M331.95 358.95 L334.65 356.25 M335.45 359.65 L338.15 362.35 M338.95 358.95 L341.65 356.25 M321.45 366.45 L324.15 369.15 M324.95 365.75 L327.65 363.05 M328.45 366.45 L331.15 369.15 M331.95 365.75 L334.65 363.05 M335.45 366.45 L338.15 369.15 M338.95 365.75 L341.65 363.05 M324.95 372.55 L327.65 369.85 M331.95 372.55 L334.65 369.85 M338.95 372.55 L341.65 369.85 " stroke="#333" stroke-width="1.0" fill="none" clip-path="url(#c22)"/><path d="M324.1 358.75 V369.3 M340.6 358.75 V369.3" fill="none" stroke="#1c1c1c" stroke-width="0.6"/><path d="M324.1 358.85 H340.6" fill="none" stroke="#1c1c1c" stroke-width="0.35"/><text x="324.5" y="379.9" font-size="8.75" text-anchor="middle" class="b">No LPS</text><rect x="356.45" y="367.1" width="7.4" height="1.1" fill="#a6a6a6"/><path d="M376.95 351.7 V350.6 M373.05 350.6 H380.85" stroke="#3c3c3c" stroke-width="0.85" fill="none"/><polygon points="383.9,354.1 386.3,351.6 386.3,366.8 383.9,369.3" fill="#474747" stroke="#1c1c1c" stroke-width="0.6"/><polygon points="367.4,354.1 369.8,351.6 386.3,351.6 383.9,354.1" fill="#ffffff" stroke="#2a2a2a" stroke-width="0.5"/><clipPath id="c23"><rect x="367.4" y="354.1" width="16.5" height="15.2"/></clipPath><rect x="367.4" y="354.1" width="16.5" height="15.2" fill="#fbfbfb"/><path d="M370.45 352.85 L373.15 355.55 M377.45 352.85 L380.15 355.55 M384.45 352.85 L387.15 355.55 M366.95 358.95 L369.65 356.25 M370.45 359.65 L373.15 362.35 M373.95 358.95 L376.65 356.25 M377.45 359.65 L380.15 362.35 M380.95 358.95 L383.65 356.25 M384.45 359.65 L387.15 362.35 M366.95 365.75 L369.65 363.05 M370.45 366.45 L373.15 369.15 M373.95 365.75 L376.65 363.05 M377.45 366.45 L380.15 369.15 M380.95 365.75 L383.65 363.05 M384.45 366.45 L387.15 369.15 M366.95 372.55 L369.65 369.85 M373.95 372.55 L376.65 369.85 M380.95 372.55 L383.65 369.85 " stroke="#333" stroke-width="1.0" fill="none" clip-path="url(#c23)"/><path d="M367.4 354.1 V369.3 M383.9 354.1 V369.3" fill="none" stroke="#1c1c1c" stroke-width="0.6"/><path d="M367.4 354.2 H383.9" fill="none" stroke="#1c1c1c" stroke-width="0.35"/><text x="367.8" y="379.9" font-size="8.75" text-anchor="middle" class="b">STI</text><rect x="399.75" y="367.1" width="7.4" height="1.1" fill="#a6a6a6"/><path d="M420.25 353.45 V351.45 M416.35 351.45 H424.15" stroke="#3c3c3c" stroke-width="0.85" fill="none"/><polygon points="427.2,355.85 429.6,353.35 429.6,366.8 427.2,369.3" fill="#474747" stroke="#1c1c1c" stroke-width="0.6"/><polygon points="410.7,355.85 413.1,353.35 429.6,353.35 427.2,355.85" fill="#ffffff" stroke="#2a2a2a" stroke-width="0.5"/><clipPath id="c24"><rect x="410.7" y="355.85" width="16.5" height="13.45"/></clipPath><rect x="410.7" y="355.85" width="16.5" height="13.45" fill="#fbfbfb"/><path d="M412.45 352.85 L415.15 355.55 M419.45 352.85 L422.15 355.55 M426.45 352.85 L429.15 355.55 M408.95 358.95 L411.65 356.25 M412.45 359.65 L415.15 362.35 M415.95 358.95 L418.65 356.25 M419.45 359.65 L422.15 362.35 M422.95 358.95 L425.65 356.25 M426.45 359.65 L429.15 362.35 M408.95 365.75 L411.65 363.05 M412.45 366.45 L415.15 369.15 M415.95 365.75 L418.65 363.05 M419.45 366.45 L422.15 369.15 M422.95 365.75 L425.65 363.05 M426.45 366.45 L429.15 369.15 M408.95 372.55 L411.65 369.85 M415.95 372.55 L418.65 369.85 M422.95 372.55 L425.65 369.85 " stroke="#333" stroke-width="1.0" fill="none" clip-path="url(#c24)"/><path d="M410.7 355.85 V369.3 M427.2 355.85 V369.3" fill="none" stroke="#1c1c1c" stroke-width="0.6"/><path d="M410.7 355.95 H427.2" fill="none" stroke="#1c1c1c" stroke-width="0.35"/><text x="411.1" y="379.9" font-size="8.75" text-anchor="middle" class="b">LPS</text><rect x="443.05" y="367.1" width="7.4" height="1.1" fill="#a6a6a6"/><path d="M463.55 320.27 V314.67 M459.65 314.67 H467.45" stroke="#3c3c3c" stroke-width="0.85" fill="none"/><polygon points="470.5,322.67 472.9,320.17 472.9,366.8 470.5,369.3" fill="#474747" stroke="#1c1c1c" stroke-width="0.6"/><polygon points="454,322.67 456.4,320.17 472.9,320.17 470.5,322.67" fill="#ffffff" stroke="#2a2a2a" stroke-width="0.5"/><clipPath id="c25"><rect x="454" y="322.67" width="16.5" height="46.63"/></clipPath><rect x="454" y="322.67" width="16.5" height="46.63" fill="#fbfbfb"/><path d="M450.95 324.95 L453.65 322.25 M454.45 325.65 L457.15 328.35 M457.95 324.95 L460.65 322.25 M461.45 325.65 L464.15 328.35 M464.95 324.95 L467.65 322.25 M468.45 325.65 L471.15 328.35 M450.95 331.75 L453.65 329.05 M454.45 332.45 L457.15 335.15 M457.95 331.75 L460.65 329.05 M461.45 332.45 L464.15 335.15 M464.95 331.75 L467.65 329.05 M468.45 332.45 L471.15 335.15 M450.95 338.55 L453.65 335.85 M454.45 339.25 L457.15 341.95 M457.95 338.55 L460.65 335.85 M461.45 339.25 L464.15 341.95 M464.95 338.55 L467.65 335.85 M468.45 339.25 L471.15 341.95 M450.95 345.35 L453.65 342.65 M454.45 346.05 L457.15 348.75 M457.95 345.35 L460.65 342.65 M461.45 346.05 L464.15 348.75 M464.95 345.35 L467.65 342.65 M468.45 346.05 L471.15 348.75 M450.95 352.15 L453.65 349.45 M454.45 352.85 L457.15 355.55 M457.95 352.15 L460.65 349.45 M461.45 352.85 L464.15 355.55 M464.95 352.15 L467.65 349.45 M468.45 352.85 L471.15 355.55 M450.95 358.95 L453.65 356.25 M454.45 359.65 L457.15 362.35 M457.95 358.95 L460.65 356.25 M461.45 359.65 L464.15 362.35 M464.95 358.95 L467.65 356.25 M468.45 359.65 L471.15 362.35 M450.95 365.75 L453.65 363.05 M454.45 366.45 L457.15 369.15 M457.95 365.75 L460.65 363.05 M461.45 366.45 L464.15 369.15 M464.95 365.75 L467.65 363.05 M468.45 366.45 L471.15 369.15 M450.95 372.55 L453.65 369.85 M457.95 372.55 L460.65 369.85 M464.95 372.55 L467.65 369.85 " stroke="#333" stroke-width="1.0" fill="none" clip-path="url(#c25)"/><path d="M454 322.67 V369.3 M470.5 322.67 V369.3" fill="none" stroke="#1c1c1c" stroke-width="0.6"/><path d="M454 322.77 H470.5" fill="none" stroke="#1c1c1c" stroke-width="0.35"/><text x="454.1" y="379.9" font-size="8.75" text-anchor="middle" class="b">1</text><rect x="486.35" y="367.1" width="7.4" height="1.1" fill="#a6a6a6"/><path d="M506.85 307 V306 M502.95 306 H510.75" stroke="#3c3c3c" stroke-width="0.85" fill="none"/><polygon points="513.8,309.4 516.2,306.9 516.2,366.8 513.8,369.3" fill="#474747" stroke="#1c1c1c" stroke-width="0.6"/><polygon points="497.3,309.4 499.7,306.9 516.2,306.9 513.8,309.4" fill="#ffffff" stroke="#2a2a2a" stroke-width="0.5"/><clipPath id="c26"><rect x="497.3" y="309.4" width="16.5" height="59.9"/></clipPath><rect x="497.3" y="309.4" width="16.5" height="59.9" fill="#fbfbfb"/><path d="M496.45 312.05 L499.15 314.75 M499.95 311.35 L502.65 308.65 M503.45 312.05 L506.15 314.75 M506.95 311.35 L509.65 308.65 M510.45 312.05 L513.15 314.75 M513.95 311.35 L516.65 308.65 M496.45 318.85 L499.15 321.55 M499.95 318.15 L502.65 315.45 M503.45 318.85 L506.15 321.55 M506.95 318.15 L509.65 315.45 M510.45 318.85 L513.15 321.55 M513.95 318.15 L516.65 315.45 M496.45 325.65 L499.15 328.35 M499.95 324.95 L502.65 322.25 M503.45 325.65 L506.15 328.35 M506.95 324.95 L509.65 322.25 M510.45 325.65 L513.15 328.35 M513.95 324.95 L516.65 322.25 M496.45 332.45 L499.15 335.15 M499.95 331.75 L502.65 329.05 M503.45 332.45 L506.15 335.15 M506.95 331.75 L509.65 329.05 M510.45 332.45 L513.15 335.15 M513.95 331.75 L516.65 329.05 M496.45 339.25 L499.15 341.95 M499.95 338.55 L502.65 335.85 M503.45 339.25 L506.15 341.95 M506.95 338.55 L509.65 335.85 M510.45 339.25 L513.15 341.95 M513.95 338.55 L516.65 335.85 M496.45 346.05 L499.15 348.75 M499.95 345.35 L502.65 342.65 M503.45 346.05 L506.15 348.75 M506.95 345.35 L509.65 342.65 M510.45 346.05 L513.15 348.75 M513.95 345.35 L516.65 342.65 M496.45 352.85 L499.15 355.55 M499.95 352.15 L502.65 349.45 M503.45 352.85 L506.15 355.55 M506.95 352.15 L509.65 349.45 M510.45 352.85 L513.15 355.55 M513.95 352.15 L516.65 349.45 M496.45 359.65 L499.15 362.35 M499.95 358.95 L502.65 356.25 M503.45 359.65 L506.15 362.35 M506.95 358.95 L509.65 356.25 M510.45 359.65 L513.15 362.35 M513.95 358.95 L516.65 356.25 M496.45 366.45 L499.15 369.15 M499.95 365.75 L502.65 363.05 M503.45 366.45 L506.15 369.15 M506.95 365.75 L509.65 363.05 M510.45 366.45 L513.15 369.15 M513.95 365.75 L516.65 363.05 M499.95 372.55 L502.65 369.85 M506.95 372.55 L509.65 369.85 M513.95 372.55 L516.65 369.85 " stroke="#333" stroke-width="1.0" fill="none" clip-path="url(#c26)"/><path d="M497.3 309.4 V369.3 M513.8 309.4 V369.3" fill="none" stroke="#1c1c1c" stroke-width="0.6"/><path d="M497.3 309.5 H513.8" fill="none" stroke="#1c1c1c" stroke-width="0.35"/><text x="497.4" y="379.9" font-size="8.75" text-anchor="middle" class="b">10</text><path d="M454.6 386.2 H498.2 M454.6 384.7 V387.7 M498.2 384.7 V387.7" stroke="#222" stroke-width="1.15"/><text x="477.5" y="396.2" font-size="8.3" text-anchor="middle" class="b">LPS+STI (µM)</text><g fill="#151515"><polygon points="463.04,305.3 462.52,302.08 464.08,302.08 463.56,305.3"/><circle cx="463.3" cy="302.08" r="0.78"/><polygon points="463.43,305.22 465.96,303.16 466.74,304.52 463.69,305.68"/><circle cx="466.35" cy="303.84" r="0.78"/><polygon points="462.91,305.68 459.86,304.52 460.64,303.16 463.17,305.22"/><circle cx="460.25" cy="303.84" r="0.78"/><polygon points="463.56,305.9 464.08,309.12 462.52,309.12 463.04,305.9"/><circle cx="463.3" cy="309.12" r="0.78"/><polygon points="463.17,305.98 460.64,308.04 459.86,306.68 462.91,305.52"/><circle cx="460.25" cy="307.36" r="0.78"/><polygon points="463.69,305.52 466.74,306.68 465.96,308.04 463.43,305.98"/><circle cx="466.35" cy="307.36" r="0.78"/><circle cx="463.3" cy="305.6" r="0.45"/></g><g fill="#151515"><polygon points="505.74,292.8 505.22,289.58 506.78,289.58 506.26,292.8"/><circle cx="506" cy="289.58" r="0.78"/><polygon points="506.13,292.72 508.66,290.66 509.44,292.02 506.39,293.18"/><circle cx="509.05" cy="291.34" r="0.78"/><polygon points="505.61,293.18 502.56,292.02 503.34,290.66 505.87,292.72"/><circle cx="502.95" cy="291.34" r="0.78"/><polygon points="506.26,293.4 506.78,296.62 505.22,296.62 505.74,293.4"/><circle cx="506" cy="296.62" r="0.78"/><polygon points="505.87,293.48 503.34,295.54 502.56,294.18 505.61,293.02"/><circle cx="502.95" cy="294.86" r="0.78"/><polygon points="506.39,293.02 509.44,294.18 508.66,295.54 506.13,293.48"/><circle cx="509.05" cy="294.86" r="0.78"/><circle cx="506" cy="293.1" r="0.45"/></g></svg>
</body></html>
